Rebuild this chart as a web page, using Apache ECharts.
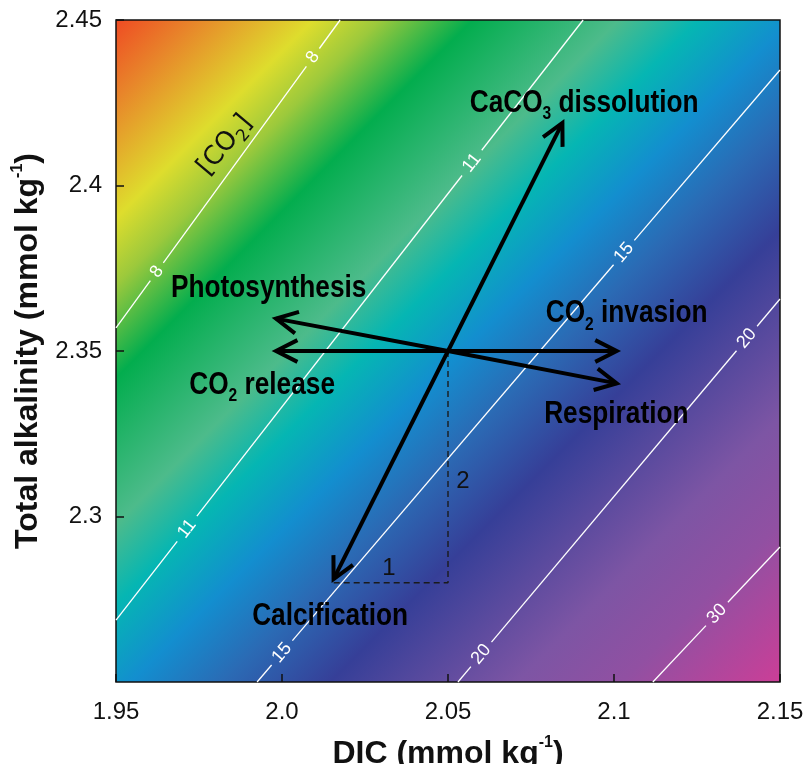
<!DOCTYPE html>
<html>
<head>
<meta charset="utf-8">
<script src="https://cdn.jsdelivr.net/npm/echarts@6/dist/echarts.min.js"></script>
<style>
html,body{margin:0;padding:0;background:#ffffff;}
#chart{width:806px;height:764px;}
</style>
</head>
<body>
<div id="chart"></div>
<script>
// ---------------- data ----------------
const xTickLabels = ['1.95', '2.0', '2.05', '2.1', '2.15'];
const yTickLabels = ['2.25', '2.3', '2.35', '2.4', '2.45'];
const xMin = 1.95, xMax = 2.15, yMin = 2.25, yMax = 2.45, tickStep = 0.05;

// CO2 contour lines (straight segments)
const contourLevels = [8, 11, 15, 20, 30];
const contourFrom = [[1.95, 2.357], [1.95, 2.2687], [1.9925, 2.25], [2.053, 2.25], [2.1117, 2.25]];
const contourTo = [[2.0175, 2.45], [2.0907, 2.45], [2.15, 2.4349], [2.15, 2.3657], [2.15, 2.2908]];
const contourLabelDIC = [[1.9623, 2.0093], [1.9714, 2.0572], [2.0, 2.103], [2.06, 2.140], [2.131]];

// process vectors from a common origin
const processOrigin = [2.05, 2.35];
const processNames = ['CaCO3 dissolution', 'Calcification', 'CO2 invasion', 'CO2 release', 'Photosynthesis', 'Respiration'];
const processDIC = [2.085, 2.015, 2.102, 1.997, 1.997, 2.102];
const processTA = [2.42, 2.28, 2.35, 2.35, 2.36, 2.34];
const processLabelDIC = [2.091, 2.0145, 2.1038, 1.994, 1.996, 2.1007];
const processLabelTA = [2.425, 2.270, 2.3613, 2.3397, 2.369, 2.331];

// 2:1 stoichiometry guide
const stoichPath = [[2.05, 2.35], [2.05, 2.28], [2.015, 2.28]];
const stoichLabels = ['2', '1'];
const stoichLabelPos = [[2.0545, 2.3107], [2.0322, 2.2844]];

const fieldLabel = '[CO2]';
const fieldLabelPos = [1.9828, 2.4122];

// ---------------- helpers ----------------
function hasFont(name) {
  const c = document.createElement('canvas').getContext('2d');
  c.font = 'bold 40px monospace';
  const w1 = c.measureText('Photosynthesis CaCO').width;
  c.font = 'bold 40px "' + name + '", monospace';
  const w2 = c.measureText('Photosynthesis CaCO').width;
  return Math.abs(w1 - w2) > 0.5;
}
function richify(str, base, sub) {
  let out = '', buf = '';
  for (let k = 0; k < str.length; k++) {
    const ch = str[k];
    if (/\d/.test(ch) && k > 0 && /[A-Za-z]/.test(str[k - 1])) {
      if (buf) out += '{' + base + '|' + buf + '}';
      buf = '';
      out += '{' + sub + '|' + ch + '}';
    } else buf += ch;
  }
  if (buf) out += '{' + base + '|' + buf + '}';
  return out;
}
const NARROW = hasFont('Liberation Sans Narrow');
const procFamily = NARROW ? '"Liberation Sans Narrow", "Liberation Sans", sans-serif' : '"Liberation Sans", sans-serif';
const procScaleX = NARROW ? 1 : 0.82;

const procRich = {
  b: { fontFamily: procFamily, fontWeight: 'bold', fontSize: 32, lineHeight: 41, fill: '#000' },
  s: { fontFamily: procFamily, fontWeight: 'bold', fontSize: 19, lineHeight: 19, verticalAlign: 'bottom', fill: '#000' }
};
const fieldRich = {
  b: { fontFamily: '"DejaVu Sans", sans-serif', fontSize: 26, lineHeight: 34, fill: '#111' },
  s: { fontFamily: '"DejaVu Sans", sans-serif', fontSize: 17, lineHeight: 17, verticalAlign: 'bottom', fill: '#111' }
};
const titleRich = {
  t: { fontFamily: '"Liberation Sans", Arial, sans-serif', fontWeight: 'bold', fontSize: 32, lineHeight: 38, color: '#111' },
  p: { fontFamily: '"Liberation Sans", Arial, sans-serif', fontWeight: 'bold', fontSize: 16, lineHeight: 28, verticalAlign: 'top', color: '#111' }
};

const bgGradient = {
  type: 'linear', x: 0, y: 0, x2: 1, y2: 1,
  colorStops: [
    { offset: 0.00, color: '#ef4a23' },
    { offset: 0.06, color: '#e8842a' },
    { offset: 0.15, color: '#dedd2d' },
    { offset: 0.20, color: '#9cc93c' },
    { offset: 0.27, color: '#03ad4e' },
    { offset: 0.38, color: '#4dbb8b' },
    { offset: 0.44, color: '#05b6b3' },
    { offset: 0.51, color: '#138ecf' },
    { offset: 0.58, color: '#2b6ab4' },
    { offset: 0.66, color: '#363f98' },
    { offset: 0.80, color: '#7d55a4' },
    { offset: 0.88, color: '#9150a2' },
    { offset: 1.00, color: '#cc3e97' }
  ]
};

const chart = echarts.init(document.getElementById('chart'), null, { renderer: 'canvas' });

const option = {
  backgroundColor: '#ffffff',
  animation: false,
  grid: {
    left: 116, right: 26, top: 20, bottom: 82,
    show: true, backgroundColor: bgGradient, borderColor: '#111', borderWidth: 1.5,
    containLabel: false, outerBoundsMode: 'none'
  },
  xAxis: {
    type: 'value', min: xMin, max: xMax, interval: tickStep,
    axisLine: { show: false }, splitLine: { show: false },
    axisTick: { show: true, inside: true, length: 8, lineStyle: { color: '#111', width: 1.5 } },
    axisLabel: {
      fontSize: 24, fontFamily: '"Liberation Sans", Arial, sans-serif', color: '#111', margin: 18,
      showMinLabel: true, showMaxLabel: true,
      formatter: v => xTickLabels[Math.round((v - xMin) / tickStep)]
    },
    name: '{t|DIC (mmol kg}{p|-1}{t|)}', nameLocation: 'middle', nameGap: 53,
    nameTextStyle: { rich: titleRich }
  },
  yAxis: {
    type: 'value', min: yMin, max: yMax, interval: tickStep,
    axisLine: { show: false }, splitLine: { show: false },
    axisTick: { show: true, inside: true, length: 8, lineStyle: { color: '#111', width: 1.5 } },
    axisLabel: {
      fontSize: 24, fontFamily: '"Liberation Sans", Arial, sans-serif', color: '#111', margin: 14,
      showMinLabel: false, showMaxLabel: true,
      formatter: v => yTickLabels[Math.round((v - yMin) / tickStep)]
    },
    name: '{t|Total alkalinity (mmol kg}{p|-1}{t|)}', nameLocation: 'middle', nameGap: 54, nameRotate: 90,
    nameTextStyle: { rich: titleRich }
  },
  series: [
    {
      // contour lines with inline labels
      type: 'custom', silent: true, z: 2,
      data: contourLevels.map((lv, i) => [contourFrom[i][0], contourFrom[i][1], contourTo[i][0], contourTo[i][1], lv]),
      encode: { x: [0, 2], y: [1, 3] },
      renderItem: (params, api) => {
        const i = params.dataIndex;
        const p0 = api.coord(contourFrom[i]);
        const p1 = api.coord(contourTo[i]);
        const dx = p1[0] - p0[0], dy = p1[1] - p0[1];
        const len = Math.hypot(dx, dy);
        const ux = dx / len, uy = dy / len;
        const txt = String(contourLevels[i]);
        const half = 5 * txt.length + 6;
        const ang = Math.atan2(-dy, dx);
        const pos = contourLabelDIC[i].map(d => (d - contourFrom[i][0]) / (contourTo[i][0] - contourFrom[i][0]) * len).sort((a, b) => a - b);
        const children = [];
        let s = 0;
        pos.forEach(q => {
          children.push({ type: 'line', shape: { x1: p0[0] + ux * s, y1: p0[1] + uy * s, x2: p0[0] + ux * (q - half), y2: p0[1] + uy * (q - half) }, style: { stroke: '#ffffff', lineWidth: 1.3 } });
          children.push({ type: 'text', x: p0[0] + ux * q, y: p0[1] + uy * q, rotation: ang,
            style: { text: txt, fill: '#ffffff', fontSize: 18, fontFamily: '"Liberation Sans", Arial, sans-serif', align: 'center', verticalAlign: 'middle' } });
          s = q + half;
        });
        children.push({ type: 'line', shape: { x1: p0[0] + ux * s, y1: p0[1] + uy * s, x2: p1[0], y2: p1[1] }, style: { stroke: '#ffffff', lineWidth: 1.3 } });
        return { type: 'group', children };
      }
    },
    {
      // stoichiometry guide
      type: 'line', silent: true, z: 3, symbol: 'none',
      data: stoichPath,
      lineStyle: { color: '#1a1a1a', width: 1.4, type: [6, 4] }
    },
    {
      // process arrows
      type: 'custom', silent: true, z: 4,
      data: processNames.map((n, i) => [processOrigin[0], processOrigin[1], processDIC[i], processTA[i]]),
      encode: { x: [0, 2], y: [1, 3] },
      renderItem: (params, api) => {
        const p0 = api.coord([api.value(0), api.value(1)]);
        const p1 = api.coord([api.value(2), api.value(3)]);
        const ang = Math.atan2(p1[1] - p0[1], p1[0] - p0[0]);
        const cx = Math.cos(ang), cy = Math.sin(ang);
        const tip = [p1[0] - 4 * cx, p1[1] - 4 * cy];
        const L = 24, a = 27 * Math.PI / 180;
        const h1 = [tip[0] - L * Math.cos(ang - a), tip[1] - L * Math.sin(ang - a)];
        const h2 = [tip[0] - L * Math.cos(ang + a), tip[1] - L * Math.sin(ang + a)];
        return { type: 'group', children: [
          { type: 'line', shape: { x1: p0[0], y1: p0[1], x2: tip[0], y2: tip[1] }, style: { stroke: '#000', lineWidth: 4 } },
          { type: 'polyline', shape: { points: [h1, tip, h2] }, style: { stroke: '#000', lineWidth: 4, fill: null, lineJoin: 'miter', lineCap: 'butt' } }
        ] };
      }
    },
    {
      // process labels
      type: 'custom', silent: true, z: 5,
      data: processNames.map((n, i) => [processLabelDIC[i], processLabelTA[i], i]),
      encode: { x: 0, y: 1 },
      renderItem: (params, api) => {
        const i = api.value(2);
        const p = api.coord([api.value(0), api.value(1)]);
        return { type: 'text', x: p[0], y: p[1], scaleX: procScaleX,
          style: { text: richify(processNames[i], 'b', 's'), rich: procRich, align: 'center', verticalAlign: 'middle', fill: '#000' } };
      }
    },
    {
      // 2 / 1 labels and [CO2] field label
      type: 'custom', silent: true, z: 5,
      data: stoichLabels.map((t, i) => [stoichLabelPos[i][0], stoichLabelPos[i][1], i]).concat([[fieldLabelPos[0], fieldLabelPos[1], -1]]),
      encode: { x: 0, y: 1 },
      renderItem: (params, api) => {
        const i = api.value(2);
        const p = api.coord([api.value(0), api.value(1)]);
        if (i < 0) {
          return { type: 'text', x: p[0], y: p[1], rotation: 50 * Math.PI / 180,
            style: { text: richify(fieldLabel, 'b', 's'), rich: fieldRich, align: 'center', verticalAlign: 'middle', fill: '#111' } };
        }
        return { type: 'text', x: p[0], y: p[1],
          style: { text: stoichLabels[i], fill: '#111', fontSize: 24, fontFamily: '"Liberation Sans", Arial, sans-serif', align: 'center', verticalAlign: 'middle' } };
      }
    }
  ]
};
chart.setOption(option);
</script>
</body>
</html>
